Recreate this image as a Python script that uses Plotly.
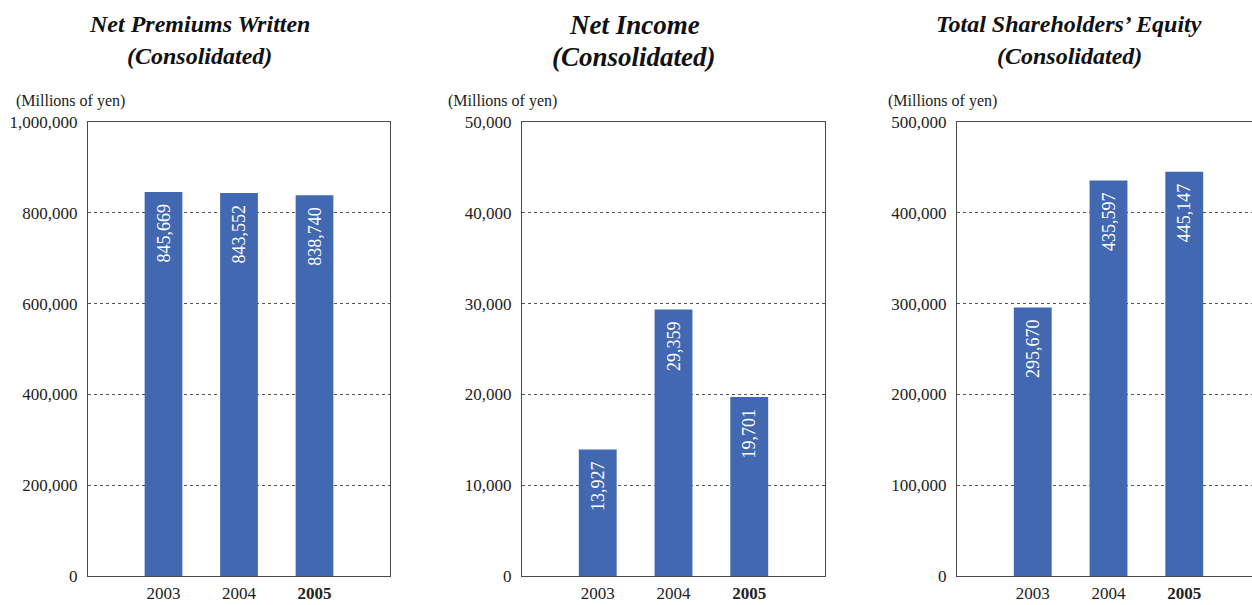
import plotly.graph_objects as go

years = ["2003", "2004", "2005"]
year_labels = ["2003", "2004", "<b>2005</b>"]
net_premiums = [845669, 843552, 838740]
net_income = [13927, 29359, 19701]
equity = [295670, 435597, 445147]

title_line1 = ["Net Premiums Written", "Net Income", "Total Shareholders’ Equity"]
title_line2 = ["(Consolidated)", "(Consolidated)", "(Consolidated)"]
title_sizes = [24, 27, 24]
y_max = [1000000, 50000, 500000]
y_dtick = [200000, 10000, 100000]
series = [net_premiums, net_income, equity]

W, H = 1252, 605
# pixel positions of plot frames
x_px = [(88, 390), (522, 825), (957, 1252)]
x_ranges = [[-1, 3], [-1, 3], [-1, 3 - 8 / 75.5]]
y_dom = [29 / H, 483 / H]

FONT = "Liberation Serif"
BAR = "#4268B1"
FRAME = "#4a4a4a"

fig = go.Figure()
for i in range(3):
    sfx = "" if i == 0 else str(i + 1)
    vals = series[i]
    fig.add_trace(go.Bar(
        x=[0, 1, 2], y=vals,
        xaxis="x" + sfx, yaxis="y" + sfx,
        marker=dict(color=BAR, line=dict(width=0)),
        width=0.5,
        text=[f"{v:,}" + "\u00a0\u00a0" for v in vals],
        textposition="inside", insidetextanchor="end",
        textangle=-90, constraintext="none",
        textfont=dict(family=FONT, size=18, color="white"),
        showlegend=False, hoverinfo="skip",
    ))
    x0, x1 = x_px[i]
    fig.layout["xaxis" + sfx] = dict(
        domain=[x0 / W, x1 / W], anchor="y" + sfx, range=x_ranges[i],
        tickvals=[0, 1, 2], ticktext=year_labels, ticks="",
        showgrid=False, zeroline=False, automargin=False,
        showline=True, linecolor=FRAME, linewidth=1, mirror=True,
        tickfont=dict(family=FONT, size=17, color="#222"),
        ticklabelstandoff=2, fixedrange=True,
    )
    fig.layout["yaxis" + sfx] = dict(
        domain=y_dom, anchor="x" + sfx, range=[0, y_max[i]],
        dtick=y_dtick[i], tickformat=",", ticks="",
        showgrid=True, gridcolor="#555", griddash="dot", gridwidth=1,
        zeroline=False, automargin=False,
        showline=True, linecolor=FRAME, linewidth=1, mirror=(i < 2),
        tickfont=dict(family=FONT, size=17, color="#222"),
        ticklabelstandoff=6, fixedrange=True,
    )

title_cx = [199, 634, 1069]
line1_y = [24, 25, 24]
line2_y = [56, 57, 56]
unit_x = [14, 446, 886]
annotations = []
for i in range(3):
    annotations.append(dict(
        text="<b><i>" + title_line1[i] + "</i></b>", x=title_cx[i] / W,
        y=1 - line1_y[i] / H, xref="paper", yref="paper",
        xanchor="center", yanchor="middle", showarrow=False,
        font=dict(family=FONT, size=title_sizes[i], color="#111"),
    ))
    annotations.append(dict(
        text="<b><i>" + title_line2[i] + "</i></b>", x=title_cx[i] / W,
        y=1 - line2_y[i] / H, xref="paper", yref="paper",
        xanchor="center", yanchor="middle", showarrow=False,
        font=dict(family=FONT, size=title_sizes[i], color="#111"),
    ))
    annotations.append(dict(
        text="(Millions of yen)", x=unit_x[i] / W, y=1 - 101 / H,
        xref="paper", yref="paper", xanchor="left", yanchor="middle",
        showarrow=False, font=dict(family=FONT, size=16, color="#222"),
    ))

fig.update_layout(
    width=W, height=H,
    margin=dict(l=0, r=0, t=0, b=0),
    paper_bgcolor="white", plot_bgcolor="white",
    annotations=annotations,
    bargap=0.5,
)

fig.write_html("out.html", config={"displayModeBar": False})
